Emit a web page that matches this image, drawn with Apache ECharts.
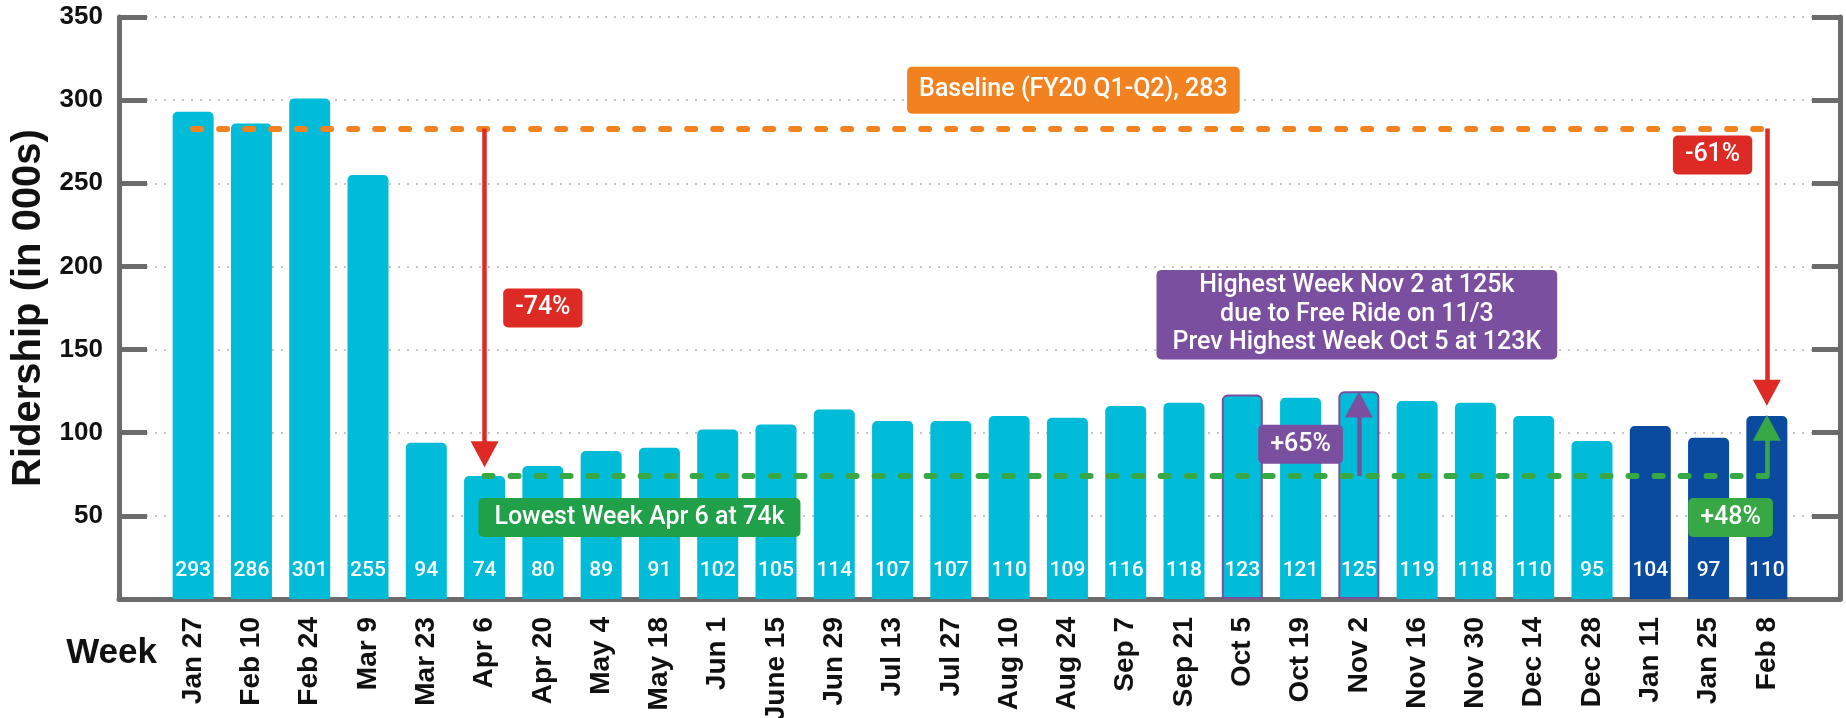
<!DOCTYPE html>
<html>
<head>
<meta charset="UTF-8">
<title>Weekly Ridership</title>
<script src="https://cdn.jsdelivr.net/npm/echarts@6.0.0/dist/echarts.min.js"></script>
<style>
  html, body { margin: 0; padding: 0; background: #fff; }
  #main { width: 1846px; height: 718px; }
</style>
</head>
<body>
<div id="main"></div>
<script>
// weekly ridership, in thousands
var weeks = ['Jan 27', 'Feb 10', 'Feb 24', 'Mar 9', 'Mar 23', 'Apr 6', 'Apr 20', 'May 4', 'May 18',
  'Jun 1', 'June 15', 'Jun 29', 'Jul 13', 'Jul 27', 'Aug 10', 'Aug 24', 'Sep 7', 'Sep 21',
  'Oct 5', 'Oct 19', 'Nov 2', 'Nov 16', 'Nov 30', 'Dec 14', 'Dec 28', 'Jan 11', 'Jan 25', 'Feb 8'];
var ridership = [293, 286, 301, 255, 94, 74, 80, 89, 91, 102, 105, 114, 107, 107, 110, 109, 116, 118,
  123, 121, 125, 119, 118, 110, 95, 104, 97, 110];
var recentWeeks = ['Jan 11', 'Jan 25', 'Feb 8'];   // drawn in dark blue
var outlinedWeeks = ['Oct 5', 'Nov 2'];            // purple outline
var yMin = 0, yMax = 350, yStep = 50;
var baseline = 283;   // FY20 Q1-Q2
var lowest = 74;      // Apr 6

var font = "'Liberation Sans', Arial, sans-serif";
var noteFont = "Roboto, 'Liberation Sans', Arial, sans-serif";
var axisGrey = '#6b6b6b';
var cyan = '#00bcd8', navy = '#0b4b9f';
var red = '#dd2a25', orange = '#f2821f', green = '#38a847', greenDark = '#21a04a', purple = '#7a4fa0';

var myChart = echarts.init(document.getElementById('main'));

var barData = weeks.map(function (w, i) {
  var item = { value: ridership[i], itemStyle: { color: recentWeeks.indexOf(w) >= 0 ? navy : cyan } };
  if (outlinedWeeks.indexOf(w) >= 0) {
    item.itemStyle.borderColor = purple;
    item.itemStyle.borderWidth = 2;
  }
  return item;
});

// arrow / dashed line helpers for markLine
function arrowLine(from, to, color) {
  return [
    { coord: from, symbol: 'none', lineStyle: { color: color, width: 4.5, type: 'solid' } },
    { coord: to, symbol: 'triangle', symbolSize: [28, 26] }
  ];
}
function dashLine(from, to, color) {
  return [
    { coord: from, symbol: 'none', lineStyle: { color: color, width: 6, type: [8, 18], cap: 'round' } },
    { coord: to, symbol: 'none' }
  ];
}
function note(text, coord, color, dx, extra) {
  var lbl = { formatter: text, backgroundColor: color, offset: [dx || 0, 0] };
  if (extra) Object.keys(extra).forEach(function (k) { lbl[k] = extra[k]; });
  return { coord: coord, label: lbl };
}

var option = {
  animation: false,
  grid: [
    // frame with the axes
    { left: 119, right: 6, top: 17, bottom: 119, outerBoundsMode: 'none' },
    // the bars
    { left: 164, right: 50, top: 17, bottom: 119, outerBoundsMode: 'none' }
  ],
  xAxis: [
    {
      gridIndex: 0, type: 'value', min: 0, max: 1,
      name: '\nWeek', nameLocation: 'start', nameGap: -38,
      nameTextStyle: { fontFamily: font, fontSize: 35, fontWeight: 'bold', color: '#111',
        verticalAlign: 'top', lineHeight: 36 },
      axisLine: { show: true, onZero: false, lineStyle: { color: axisGrey, width: 5 } },
      axisTick: { show: false }, axisLabel: { show: false }, splitLine: { show: false }
    },
    {
      gridIndex: 1, type: 'category', data: weeks,
      axisLine: { show: false }, axisTick: { show: false },
      axisLabel: { interval: 0, rotate: 90, margin: 18, fontFamily: font, fontSize: 28,
        fontWeight: 'bold', color: '#111' }
    }
  ],
  yAxis: [
    {
      gridIndex: 0, type: 'value', min: yMin, max: yMax, interval: yStep,
      name: 'Ridership (in 000s)', nameLocation: 'middle', nameGap: 68,
      nameTextStyle: { fontFamily: font, fontSize: 40, fontWeight: 'bold', color: '#111' },
      axisLine: { show: true, onZero: false, lineStyle: { color: axisGrey, width: 5 } },
      axisTick: { show: true, inside: true, length: 28, lineStyle: { color: axisGrey, width: 5 } },
      axisLabel: { margin: 16, fontFamily: font, fontSize: 26, fontWeight: 'bold', color: '#111',
        formatter: function (v) { return v === 0 ? '' : v; } },
      splitLine: { show: true, lineStyle: { color: '#c4c4c4', width: 2, type: [2, 7] } }
    },
    {
      gridIndex: 0, type: 'value', position: 'right', min: yMin, max: yMax, interval: yStep,
      axisLine: { show: true, onZero: false, lineStyle: { color: axisGrey, width: 5 } },
      axisTick: { show: true, inside: true, length: 28, lineStyle: { color: axisGrey, width: 5 } },
      axisLabel: { show: false }, splitLine: { show: false }
    },
    { gridIndex: 1, type: 'value', min: yMin, max: yMax, show: false }
  ],
  series: [{
    type: 'bar',
    xAxisIndex: 1, yAxisIndex: 2,
    barWidth: 41,
    data: barData,
    itemStyle: { borderRadius: [5, 5, 0, 0] },
    label: { show: true, position: 'insideBottom', distance: 18, color: '#fff',
      fontFamily: noteFont, fontWeight: 500, fontSize: 21 },
    markLine: {
      silent: true, animation: false, symbol: 'none', label: { show: false },
      emphasis: { disabled: true },
      data: [
        dashLine(['Jan 27', baseline], ['Feb 8', baseline], orange),
        dashLine(['Apr 6', lowest], ['Feb 8', lowest], green),
        arrowLine(['Apr 6', baseline], ['Apr 6', 87], red),
        arrowLine(['Feb 8', baseline], ['Feb 8', 124], red),
        arrowLine(['Feb 8', lowest], ['Feb 8', 103], green),
        arrowLine(['Nov 2', lowest], ['Nov 2', 117], purple)
      ]
    },
    markPoint: {
      silent: true, animation: false, z: 6,
      symbol: 'rect', symbolSize: 1, itemStyle: { color: 'rgba(0,0,0,0)' },
      label: { show: true, position: 'inside', color: '#fff', fontFamily: noteFont, fontWeight: 500,
        fontSize: 25, lineHeight: 29, padding: [5, 12], borderRadius: 5 },
      data: [
        note('Baseline (FY20 Q1-Q2), 283', ['Aug 24', 306], orange, 6, { padding: [9, 12] }),
        note('-74%', ['Apr 20', 175], red),
        note('-61%', ['Jan 25', 267], red, 4),
        note('Lowest Week Apr 6 at 74k', ['May 18', 49], greenDark, -20, { padding: [5, 16] }),
        note('Highest Week Nov 2 at 125k\ndue to Free Ride on 11/3\nPrev Highest Week Oct 5 at 123K',
          ['Nov 2', 171], purple, -2, { padding: [2, 16], lineHeight: 28.5, align: 'center' }),
        note('+65%', ['Oct 19', 93], purple),
        note('+48%', ['Jan 25', 49], green, 22)
      ]
    }
  }]
};

myChart.setOption(option);
</script>
</body>
</html>
